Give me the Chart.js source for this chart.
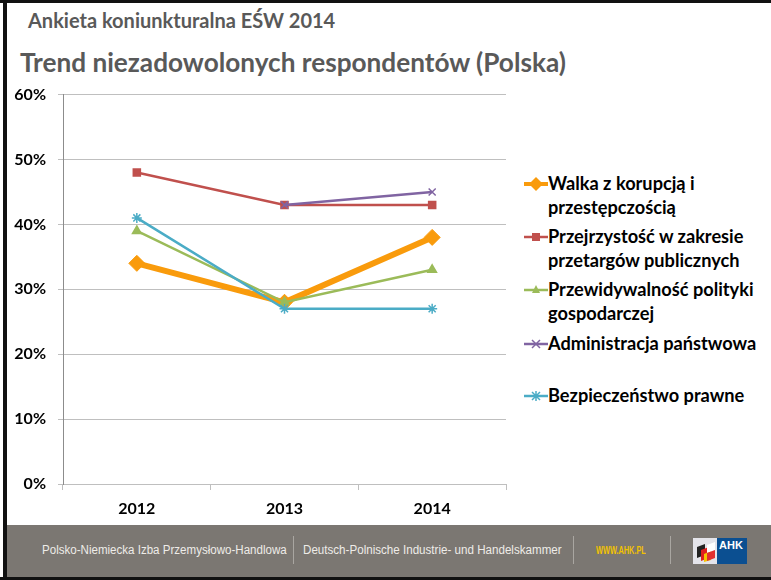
<!DOCTYPE html>
<html>
<head>
<meta charset="utf-8">
<script src="https://cdn.jsdelivr.net/npm/chart.js@4.4.1/dist/chart.umd.min.js"></script>
<style>
    html, body { margin: 0; padding: 0; background: #fff; }
    #slide { position: relative; width: 771px; height: 580px; overflow: hidden; background: #fff; font-family: Lato, "Open Sans", sans-serif; }
    #frameTop { position: absolute; left: 0; top: 0; width: 771px; height: 3px; background: #111; }
    #frameLeft { position: absolute; left: 3px; top: 0; width: 4px; height: 580px; background: #111; }
    #frameBottom { position: absolute; left: 0; top: 577px; width: 771px; height: 3px; background: #111; }
    #subtitle { position: absolute; left: 28px; top: 8px; font-size: 20px; font-weight: bold; color: #595959; white-space: nowrap; }
    #title { position: absolute; left: 20px; top: 46px; font-size: 26.2px; font-weight: bold; color: #595959; white-space: nowrap; }
    #chartBox { position: absolute; left: 0; top: 73px; width: 515px; height: 447px; }
    #legend { position: absolute; left: 522px; top: 172px; width: 249px; }
    .item { position: absolute; left: 0; display: flex; align-items: flex-start; }
    .item svg { flex: none; margin-top: 3px; }
    .item span { font-size: 18.2px; font-weight: bold; color: #000; line-height: 23.5px; white-space: nowrap; }
    #footer { position: absolute; left: 7px; top: 525px; width: 764px; height: 52px; background: #7b7772; }
    .ft { position: absolute; top: 18px; font-family: "Liberation Sans Narrow", "Liberation Sans", sans-serif; font-size: 12.5px; color: #eeece8; white-space: nowrap; transform-origin: 0 50%; }
    .sep { position: absolute; top: 11px; width: 1px; height: 28px; background: #a9a6a1; }
    #logo { position: absolute; left: 686px; top: 13px; width: 54px; height: 26px; }
</style>
</head>
<body>
<div id="slide">
    <div id="subtitle">Ankieta koniunkturalna EŚW 2014</div>
    <div id="title">Trend niezadowolonych respondentów (Polska)</div>
    <div id="chartBox"><canvas id="trend"></canvas></div>
    <div id="legend"></div>
    <div id="footer">
        <div class="ft" data-w="245" style="left:35px">Polsko-Niemiecka Izba Przemysłowo-Handlowa</div>
        <div class="sep" style="left:286px"></div>
        <div class="ft" data-w="259" style="left:296px">Deutsch-Polnische Industrie- und Handelskammer</div>
        <div class="sep" style="left:566px"></div>
        <div class="ft" data-w="50" style="left:589px; color:#f2c200; font-size:10px; top:20px; font-weight:bold">WWW.AHK.PL</div>
        <div class="sep" style="left:663px"></div>
        <svg id="logo" viewBox="0 0 54 26">
            <rect x="0" y="0" width="24" height="26" fill="#e4e4ea"/>
            <rect x="24" y="0" width="30" height="26" fill="#0b4f91"/>
            <path d="M4 9 L12 6 L12 17 L4 20 Z" fill="#222"/>
            <path d="M8 12 L16 9 L16 20 L8 23 Z" fill="#e02020"/>
            <path d="M11 16 L18 13 L18 22 L11 24 Z" fill="#f5c400"/>
            <path d="M14 7 L22 4 L22 12 L14 15 Z" fill="#fff"/>
            <path d="M14 15 L22 12 L22 20 L14 23 Z" fill="#e03030"/>
            <text x="26" y="11" font-size="11" font-weight="bold" fill="#fff" font-family="Liberation Sans, sans-serif">AHK</text>
        </svg>
    </div>
    <div id="frameTop"></div>
    <div id="frameLeft"></div>
    <div id="frameBottom"></div>
</div>
<script>
    var years = ['2012', '2013', '2014'];
    var yTicks = [0, 10, 20, 30, 40, 50, 60];

    var seriesNames = [
        ['Walka z korupcją i', 'przestępczością'],
        ['Przejrzystość w zakresie', 'przetargów publicznych'],
        ['Przewidywalność polityki', 'gospodarczej'],
        ['Administracja państwowa'],
        ['Bezpieczeństwo prawne']
    ];
    var walka = [34, 28, 38];
    var przejrzystosc = [48, 43, 43];
    var przewidywalnosc = [39, 28, 33];
    var administracja = [null, 43, 45];
    var bezpieczenstwo = [41, 27, 27];

    var values = [walka, przejrzystosc, przewidywalnosc, administracja, bezpieczenstwo];
    var colors = ['#f99b0c', '#c0504d', '#9bbb59', '#8064a2', '#4bacc6'];
    var widths = [6, 2.5, 2.5, 2.5, 2.5];
    var shapes = ['rectRot', 'rect', 'triangle', 'crossRot', 'star'];
    var radii = [8, 5, 5, 5, 5];
    var legendTops = [0, 53, 106, 160, 212];

    var datasets = values.map(function (v, i) {
        return {
            label: seriesNames[i].join(' '),
            data: v,
            borderColor: colors[i],
            backgroundColor: colors[i],
            borderWidth: widths[i],
            pointStyle: shapes[i],
            pointRadius: radii[i],
            pointHoverRadius: radii[i],
            pointBorderColor: colors[i],
            pointBackgroundColor: colors[i],
            pointBorderWidth: i === 0 ? 1 : 1.5,
            order: values.length - i,
            spanGaps: false,
            tension: 0
        };
    });

    new Chart(document.getElementById('trend'), {
        type: 'line',
        data: { labels: years, datasets: datasets },
        options: {
            responsive: true,
            maintainAspectRatio: false,
            animation: false,
            layout: { padding: { top: 7, right: 5, bottom: 0, left: 0 } },
            plugins: { legend: { display: false }, tooltip: { enabled: false } },
            scales: {
                x: {
                    offset: true,
                    grid: { offset: true, drawOnChartArea: false, color: '#bfbfbf', tickLength: 6 },
                    border: { color: '#bfbfbf' },
                    ticks: { color: '#000', font: { family: 'Lato', size: 16, weight: 'bold' }, padding: 9 },
                    afterFit: function (s) { s.height = 36; }
                },
                y: {
                    min: 0,
                    max: 60,
                    afterBuildTicks: function (s) { s.ticks = yTicks.map(function (t) { return { value: t }; }); },
                    grid: { color: '#bfbfbf', tickLength: 5 },
                    border: { color: '#8c8c8c' },
                    ticks: {
                        color: '#000',
                        font: { family: 'Lato', size: 16, weight: 'bold' },
                        padding: 12,
                        callback: function (v) { return v + '%'; }
                    },
                    afterFit: function (s) { s.width = 63; }
                }
            }
        }
    });

    // legend drawn as html so that the long labels can wrap like the original
    var legend = document.getElementById('legend');
    seriesNames.forEach(function (name, i) {
        var item = document.createElement('div');
        item.className = 'item';
        item.style.top = legendTops[i] + 'px';
        var c = colors[i];
        var svg = '<svg width="26" height="18" viewBox="0 0 26 18">' +
            '<line x1="2" y1="9" x2="26" y2="9" stroke="' + c + '" stroke-width="' + (i === 0 ? 4 : 2.5) + '"/>';
        if (i === 0) svg += '<path d="M14 2 L21 9 L14 16 L7 9 Z" fill="' + c + '"/>';
        if (i === 1) svg += '<rect x="10" y="5" width="8" height="8" fill="' + c + '"/>';
        if (i === 2) svg += '<path d="M14 4 L18 12 L10 12 Z" fill="' + c + '"/>';
        if (i === 3) svg += '<path d="M10 5 L18 13 M18 5 L10 13" stroke="' + c + '" stroke-width="1.5"/>';
        if (i === 4) svg += '<path d="M10 5 L18 13 M18 5 L10 13 M14 4 L14 14" stroke="' + c + '" stroke-width="1.5"/>';
        svg += '</svg>';
        item.innerHTML = svg + '<span>' + name.join('<br>') + '</span>';
        legend.appendChild(item);
    });

    // squeeze footer texts to the widths of the original
    document.querySelectorAll('.ft').forEach(function (el) {
        var w = +el.getAttribute('data-w');
        el.style.transform = 'scaleX(' + (w / el.scrollWidth) + ')';
    });
</script>
</body>
</html>
